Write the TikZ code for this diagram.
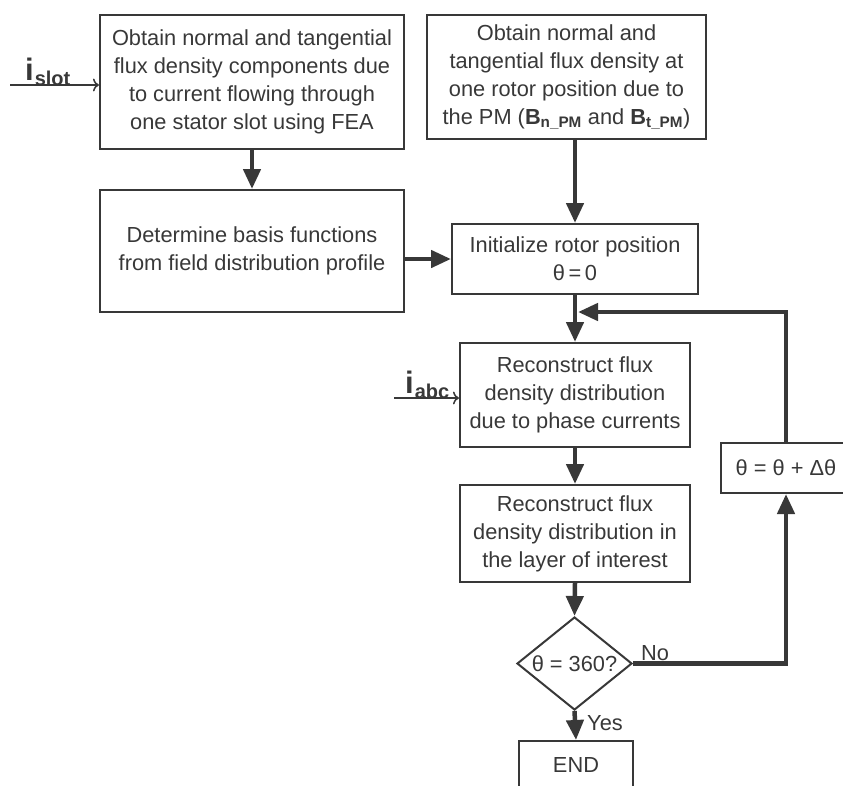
\documentclass[tikz,border=0pt]{standalone}
\usepackage{fontspec}
\setmainfont{Liberation Sans}
\usetikzlibrary{arrows.meta,shapes.geometric}
\definecolor{ink}{HTML}{383838}
\begin{document}
\begin{tikzpicture}[x=1pt,y=-1pt,
  box/.style={draw=ink, line width=2pt, align=center, text=ink,
    font=\fontsize{21.8}{28}\selectfont, inner sep=0pt},
  flow/.style={draw=ink, line width=4.5pt, -{Triangle[length=20pt,width=17pt]}},
  inarrow/.style={draw=ink, line width=1.5pt, -{To[length=6pt,width=13pt]}},
  lbl/.style={text=ink, font=\fontsize{21.8}{24}\selectfont, inner sep=0pt},
  inlbl/.style={text=ink, inner sep=0pt, font=\bfseries}]
\useasboundingbox (0,0) rectangle (843,785);
\clip (0,0) rectangle (843,785);

\node[box, minimum width=304pt, minimum height=134pt] (A) at (252,82)
  {Obtain normal and tangential\\flux density components due\\to current flowing through\\one stator slot using FEA};
\node[box, minimum width=304pt, minimum height=122pt] (B) at (252,251)
  {Determine basis functions\\from field distribution profile};
\node[box, minimum width=279pt, minimum height=124pt] (C) at (566.5,77)
  {Obtain normal and\\tangential flux density at\\one rotor position due to\\the PM (\textbf{B}\textsubscript{\textbf{n\_PM}} and \textbf{B}\textsubscript{\textbf{t\_PM}})};
\node[box, minimum width=246pt, minimum height=70pt] (D) at (575,259)
  {Initialize rotor position\\θ\,=\,0};
\node[box, minimum width=230pt, minimum height=104pt] (E) at (575,395)
  {Reconstruct flux\\density distribution\\due to phase currents};
\node[box, minimum width=230pt, minimum height=97pt] (F) at (575,533.5)
  {Reconstruct flux\\density distribution in\\the layer of interest};
\node[box, minimum width=130pt, minimum height=50pt] (G) at (786,468)
  {θ = θ + Δθ};
\node[box, shape=diamond, minimum width=115pt, minimum height=93pt, shape aspect=1.24] (dia) at (574.5,663.5)
  {θ = 360?};
\node[box, minimum width=114pt, minimum height=50pt] (endb) at (576,766)
  {\raisebox{3pt}{END}};

\node[lbl, anchor=south west] (no) at (641,661) {No};
\node[lbl, anchor=west] (yes) at (587,723) {Yes};

% inputs
\coordinate (sl) at (10,85);
\draw[inarrow] (sl) -- (sl -| A.west);
\node[inlbl, anchor=base west] (islot) at (25,80)
  {\fontsize{31}{31}\selectfont i\kern1pt\raisebox{-5pt}{\fontsize{20}{20}\selectfont slot}};
\coordinate (ab) at (394,398);
\draw[inarrow] (ab) -- (ab -| E.west);
\node[inlbl, anchor=base west] (iabc) at (405,393)
  {\fontsize{31}{31}\selectfont i\kern1pt\raisebox{-5pt}{\fontsize{20}{20}\selectfont abc}};

% flow
\draw[flow] (A.south) -- (B.north);
\draw[flow] (D.north |- C.south) -- (D.north);
\draw[flow] (D.west -| B.east) -- (D.west);
\draw[flow] (D.south) -- (E.north);
\draw[flow] (E.south) -- (F.north);
\draw[flow] (F.south) -- (dia.north);
\draw[flow] (dia.south) -- (endb.north);
\draw[flow] (dia.east) -| (G.south);
\coordinate (loopin) at (578,312);
\draw[flow] (G.north) |- (loopin);
\end{tikzpicture}
\end{document}
